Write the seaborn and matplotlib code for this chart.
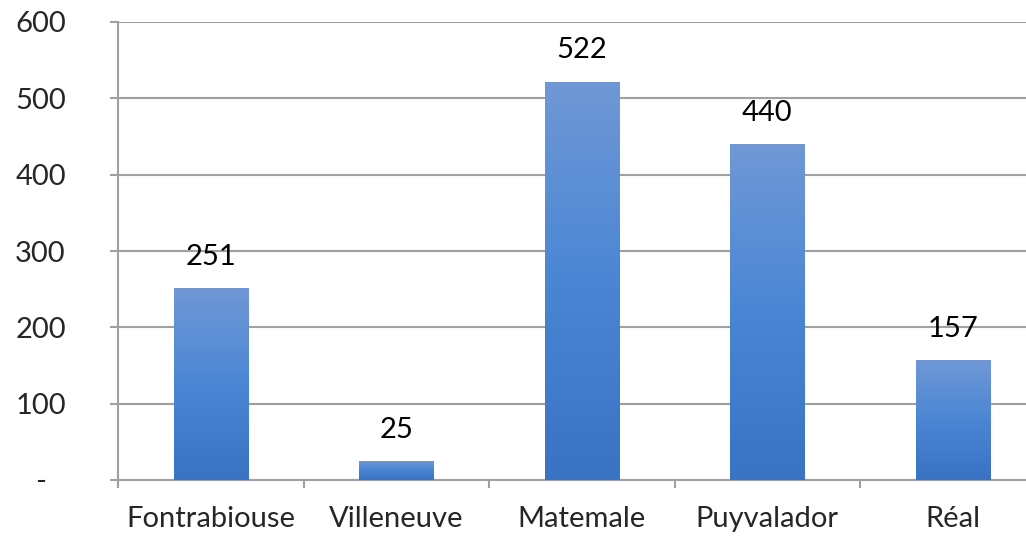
import matplotlib
matplotlib.use("Agg")
import matplotlib.pyplot as plt
from matplotlib.colors import LinearSegmentedColormap
import seaborn as sns
import numpy as np

# data
communes = ["Fontrabiouse", "Villeneuve", "Matemale", "Puyvalador", "Réal"]
valeurs = [251, 25, 522, 440, 157]
y_ticks = [0, 100, 200, 300, 400, 500, 600]
y_labels = ["-", "100", "200", "300", "400", "500", "600"]

sns.set_style("white")
plt.rcParams["font.family"] = ["Lato", "DejaVu Sans"]

W, H = 1026, 536
fig = plt.figure(figsize=(W / 100, H / 100), dpi=100)
ax = fig.add_axes([118 / W, (H - 480) / H, 927.5 / W, 458 / H])

sns.barplot(x=communes, y=valeurs, ax=ax, width=0.4, color="#4a86d4")

# gradient fill on bars
cmap = LinearSegmentedColormap.from_list("g", ["#3a72c4", "#4a86d4", "#7098d6"])
grad = np.linspace(0, 1, 256).reshape(-1, 1)
for p in ax.patches:
    x0, y0 = p.get_x(), p.get_y()
    w, h = p.get_width(), p.get_height()
    im = ax.imshow(grad, cmap=cmap, origin="lower", aspect="auto",
                   extent=[x0, x0 + w, y0, y0 + h], zorder=3)
    im.set_clip_path(p)
    p.set_facecolor("none")
    p.set_edgecolor("none")
ax.set_xlim(-0.5, len(communes) - 0.5)
ax.set_ylim(0, 600)

fs = 21
# value labels
for i, v in enumerate(valeurs):
    ax.annotate(str(v), (i, v), xytext=(0, 13), textcoords="offset points",
                ha="center", va="bottom", fontsize=fs, color="black", zorder=4)

grey = "#a0a0a0"
ax.set_yticks(y_ticks)
ax.set_yticklabels(y_labels, ha="center")
ax.yaxis.grid(True, color=grey, linewidth=1.5)
ax.set_axisbelow(True)
ax.tick_params(axis="y", length=5.8, width=1.5, color=grey, pad=50, labelsize=fs, left=True)

ax.set_xticks(range(len(communes)))
ax.set_xticklabels(communes)
ax.set_xticks(np.arange(-0.5, len(communes) + 0.5, 1), minor=True)
ax.tick_params(axis="x", which="major", length=0, pad=19, labelsize=fs)
ax.tick_params(axis="x", which="minor", length=5.8, width=1.5, color=grey, bottom=True)
ax.set_xlabel("")
ax.set_ylabel("")

for s in ["top", "right"]:
    ax.spines[s].set_visible(False)
for s in ["left", "bottom"]:
    ax.spines[s].set_color(grey)
    ax.spines[s].set_linewidth(1.5)

fig.savefig("out.png", dpi=100)
